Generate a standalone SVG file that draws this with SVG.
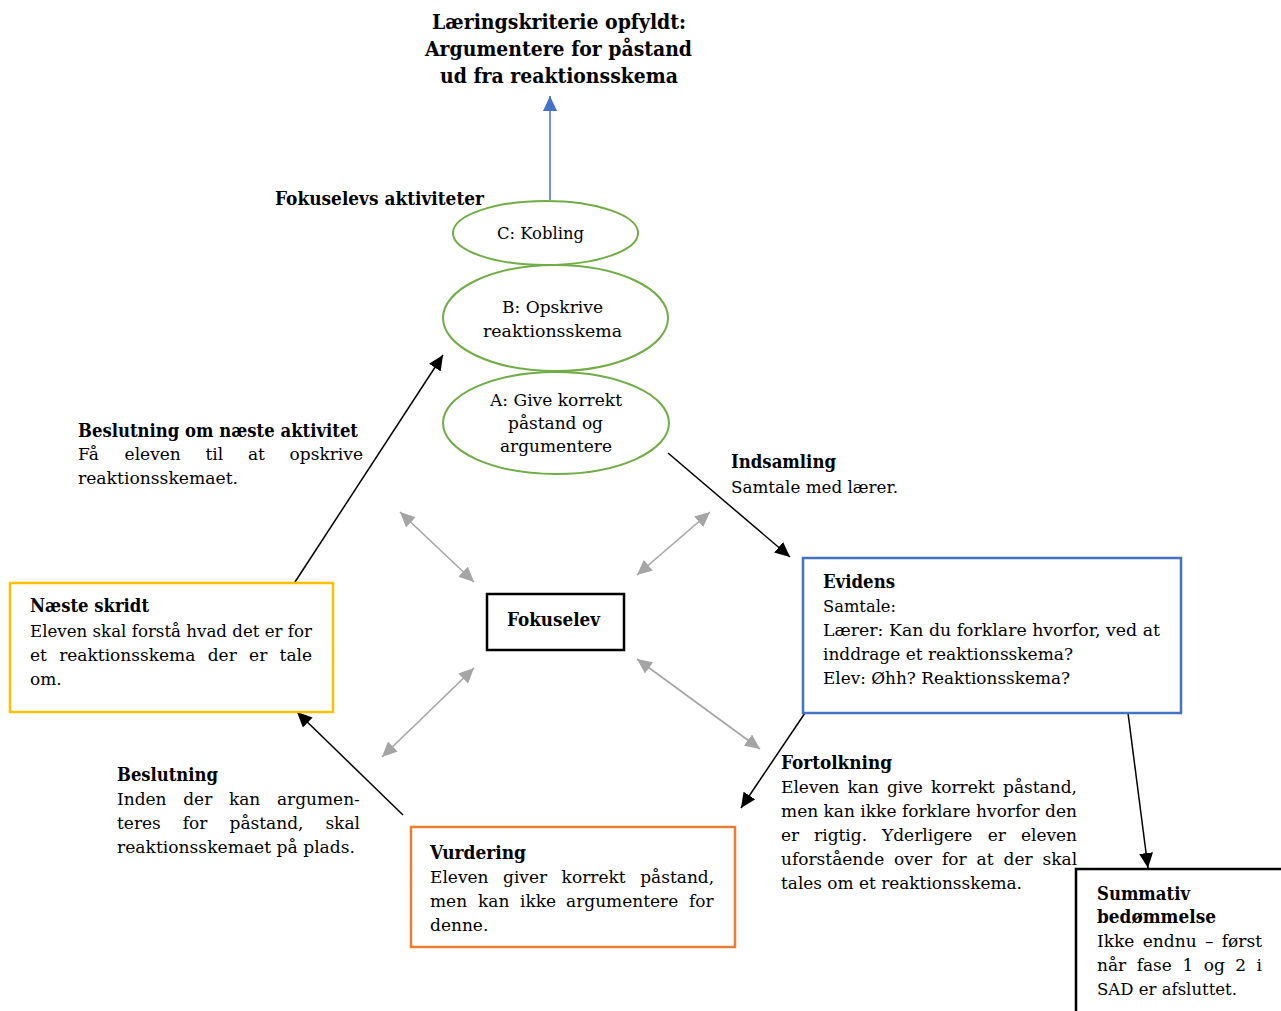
<svg xmlns="http://www.w3.org/2000/svg" width="1281" height="1011" viewBox="0 0 1281 1011">
<style>
text{font-family:"DejaVu Serif","Liberation Serif",serif;font-size:17px;fill:#000}
.b{font-weight:bold;font-size:18px}
.t{font-weight:bold;font-size:21px}
.ell{fill:#fff;stroke:#70AD47;stroke-width:2}
.blk{fill:none;stroke:#000;stroke-width:1.5}
.gry{fill:none;stroke:#A5A5A5;stroke-width:1.6}
</style>
<defs>
<marker id="ah" markerUnits="userSpaceOnUse" markerWidth="16" markerHeight="14" refX="15" refY="7" orient="auto"><path d="M0,0 L15,7 L0,14 z" fill="#000"/></marker>
<marker id="ahb" markerUnits="userSpaceOnUse" markerWidth="16" markerHeight="14" refX="15" refY="7" orient="auto"><path d="M0,0 L15,7 L0,14 z" fill="#4472C4"/></marker>
<marker id="ahg" markerUnits="userSpaceOnUse" markerWidth="16" markerHeight="14" refX="15" refY="7" orient="auto-start-reverse"><path d="M0,0 L15,7 L0,14 z" fill="#A5A5A5"/></marker>
</defs>
<rect width="1281" height="1011" fill="#fff"/>

<g id="title">
<text class="t" x="432" y="29" textLength="254" lengthAdjust="spacingAndGlyphs">Læringskriterie opfyldt:</text>
<text class="t" x="425" y="56" textLength="267" lengthAdjust="spacingAndGlyphs">Argumentere for påstand</text>
<text class="t" x="440" y="83" textLength="238" lengthAdjust="spacingAndGlyphs">ud fra reaktionsskema</text>
</g>

<g id="connectors">
<line x1="550" y1="200" x2="550" y2="96" stroke="#4472C4" stroke-width="1.5" marker-end="url(#ahb)"/>
<line class="blk" x1="295" y1="582" x2="443" y2="355" marker-end="url(#ah)"/>
<line class="blk" x1="668" y1="453" x2="790" y2="557" marker-end="url(#ah)"/>
<line class="blk" x1="805" y1="713" x2="741" y2="808" marker-end="url(#ah)"/>
<line class="blk" x1="1128" y1="713" x2="1148" y2="868" marker-end="url(#ah)"/>
<line class="blk" x1="403" y1="815" x2="297" y2="712" marker-end="url(#ah)"/>
<line class="gry" x1="400" y1="512" x2="474" y2="582" marker-start="url(#ahg)" marker-end="url(#ahg)"/>
<line class="gry" x1="710" y1="512" x2="637" y2="575" marker-start="url(#ahg)" marker-end="url(#ahg)"/>
<line class="gry" x1="474" y1="668" x2="382" y2="757" marker-start="url(#ahg)" marker-end="url(#ahg)"/>
<line class="gry" x1="637" y1="659" x2="760" y2="749" marker-start="url(#ahg)" marker-end="url(#ahg)"/>
</g>

<g id="aktiviteter-label">
<text class="b" x="275" y="205" textLength="209" lengthAdjust="spacingAndGlyphs">Fokuselevs aktiviteter</text>
</g>

<g id="node-c">
<ellipse class="ell" cx="545.5" cy="233" rx="92.5" ry="32"/>
<text x="497" y="239" textLength="87" lengthAdjust="spacingAndGlyphs">C: Kobling</text>
</g>
<g id="node-b">
<ellipse class="ell" cx="555.5" cy="318" rx="112.5" ry="53"/>
<text x="502" y="313" textLength="101" lengthAdjust="spacingAndGlyphs">B: Opskrive</text>
<text x="483" y="337" textLength="139" lengthAdjust="spacingAndGlyphs">reaktionsskema</text>
</g>
<g id="node-a">
<ellipse class="ell" cx="556" cy="423" rx="113" ry="51"/>
<text x="490" y="406" textLength="132" lengthAdjust="spacingAndGlyphs">A: Give korrekt</text>
<text x="508" y="429" textLength="95" lengthAdjust="spacingAndGlyphs">påstand og</text>
<text x="500" y="452" textLength="112" lengthAdjust="spacingAndGlyphs">argumentere</text>
</g>

<g id="beslutning-naeste">
<text class="b" x="78" y="437" textLength="280" lengthAdjust="spacingAndGlyphs">Beslutning om næste aktivitet</text>
<text y="460"><tspan x="78">Få</tspan><tspan x="124.6">eleven</tspan><tspan x="205.5">til</tspan><tspan x="247.9">at</tspan><tspan x="289.6">opskrive</tspan></text>
<text x="78" y="484" textLength="160" lengthAdjust="spacingAndGlyphs">reaktionsskemaet.</text>
</g>

<g id="node-naeste-skridt">
<rect x="10" y="583" width="323" height="129" fill="#fff" stroke="#FFC000" stroke-width="2.5"/>
<text class="b" x="30" y="612" textLength="119" lengthAdjust="spacingAndGlyphs">Næste skridt</text>
<text x="30" y="637" textLength="282" lengthAdjust="spacingAndGlyphs">Eleven skal forstå hvad det er for</text>
<text y="661"><tspan x="30">et</tspan><tspan x="59.2">reaktionsskema</tspan><tspan x="207.7">der</tspan><tspan x="249.1">er</tspan><tspan x="279.6">tale</tspan></text>
<text x="30" y="685">om.</text>
</g>

<g id="indsamling">
<text class="b" x="731" y="468" textLength="105" lengthAdjust="spacingAndGlyphs">Indsamling</text>
<text x="731" y="493" textLength="167" lengthAdjust="spacingAndGlyphs">Samtale med lærer.</text>
</g>

<g id="node-evidens">
<rect x="803" y="558" width="378" height="155" fill="#fff" stroke="#4472C4" stroke-width="2.5"/>
<text class="b" x="823" y="588" textLength="72" lengthAdjust="spacingAndGlyphs">Evidens</text>
<text x="823" y="612" textLength="73" lengthAdjust="spacingAndGlyphs">Samtale:</text>
<text x="823" y="636" textLength="337" lengthAdjust="spacingAndGlyphs">Lærer: Kan du forklare hvorfor, ved at</text>
<text x="823" y="660" textLength="250" lengthAdjust="spacingAndGlyphs">inddrage et reaktionsskema?</text>
<text x="823" y="684" textLength="247" lengthAdjust="spacingAndGlyphs">Elev: Øhh? Reaktionsskema?</text>
</g>

<g id="node-fokuselev">
<rect x="487" y="594" width="137" height="56" fill="#fff" stroke="#000" stroke-width="2.5"/>
<text class="b" x="507" y="626" textLength="93" lengthAdjust="spacingAndGlyphs">Fokuselev</text>
</g>

<g id="beslutning">
<text class="b" x="117" y="781" textLength="101" lengthAdjust="spacingAndGlyphs">Beslutning</text>
<text y="805"><tspan x="117">Inden</tspan><tspan x="183.2">der</tspan><tspan x="228.9">kan</tspan><tspan x="276.9">argumen-</tspan></text>
<text y="829"><tspan x="117">teres</tspan><tspan x="182.8">for</tspan><tspan x="229.5">påstand,</tspan><tspan x="325.4">skal</tspan></text>
<text x="117" y="853" textLength="238" lengthAdjust="spacingAndGlyphs">reaktionsskemaet på plads.</text>
</g>

<g id="node-vurdering">
<rect x="411" y="827" width="324" height="120" fill="#fff" stroke="#ED7D31" stroke-width="2.5"/>
<text class="b" x="430" y="859" textLength="96" lengthAdjust="spacingAndGlyphs">Vurdering</text>
<text y="883"><tspan x="430">Eleven</tspan><tspan x="503">giver</tspan><tspan x="561.6">korrekt</tspan><tspan x="640.2">påstand,</tspan></text>
<text y="907"><tspan x="430">men</tspan><tspan x="478">kan</tspan><tspan x="520">ikke</tspan><tspan x="566">argumentere</tspan><tspan x="689">for</tspan></text>
<text x="430" y="931">denne.</text>
</g>

<g id="fortolkning">
<text class="b" x="781" y="769" textLength="111" lengthAdjust="spacingAndGlyphs">Fortolkning</text>
<text y="793"><tspan x="781">Eleven</tspan><tspan x="847.5">kan</tspan><tspan x="886.9">give</tspan><tspan x="930.9">korrekt</tspan><tspan x="1003">påstand,</tspan></text>
<text x="781" y="817" textLength="296" lengthAdjust="spacingAndGlyphs">men kan ikke forklare hvorfor den</text>
<text y="841"><tspan x="781">er</tspan><tspan x="814.1">rigtig.</tspan><tspan x="882">Yderligere</tspan><tspan x="987.8">er</tspan><tspan x="1020.9">eleven</tspan></text>
<text y="865"><tspan x="781">uforstående</tspan><tspan x="894.1">over</tspan><tspan x="942">for</tspan><tspan x="976.6">at</tspan><tspan x="1003.5">der</tspan><tspan x="1042.5">skal</tspan></text>
<text x="781" y="889" textLength="241" lengthAdjust="spacingAndGlyphs">tales om et reaktionsskema.</text>
</g>

<g id="node-summativ">
<rect x="1076" y="869" width="220" height="160" fill="#fff" stroke="#000" stroke-width="2.5"/>
<text class="b" x="1097" y="900" textLength="93" lengthAdjust="spacingAndGlyphs">Summativ</text>
<text class="b" x="1097" y="923" textLength="119" lengthAdjust="spacingAndGlyphs">bedømmelse</text>
<text y="947"><tspan x="1097">Ikke</tspan><tspan x="1142.8">endnu</tspan><tspan x="1204.9">–</tspan><tspan x="1221.8">først</tspan></text>
<text y="971"><tspan x="1097">når</tspan><tspan x="1136.7">fase</tspan><tspan x="1182.4">1</tspan><tspan x="1203.7">og</tspan><tspan x="1235.3">2</tspan><tspan x="1256.6">i</tspan></text>
<text x="1097" y="995" textLength="140" lengthAdjust="spacingAndGlyphs">SAD er afsluttet.</text>
</g>
</svg>
